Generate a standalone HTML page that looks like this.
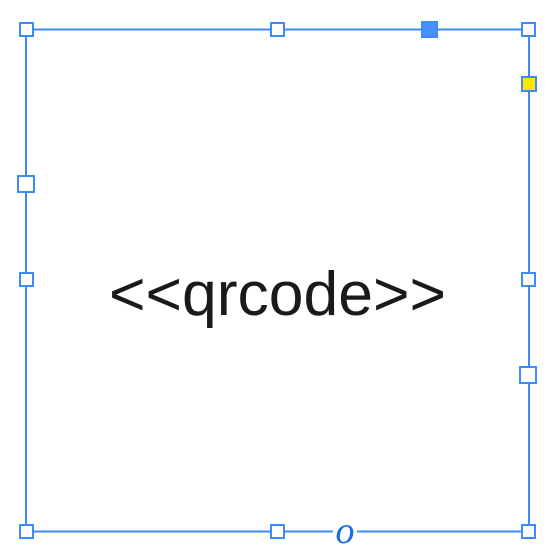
<!DOCTYPE html>
<html><head><style>html,body{margin:0;padding:0;background:#fff;width:560px;height:558px;overflow:hidden}</style></head>
<body>
<svg width="560" height="558" viewBox="0 0 560 558" xmlns="http://www.w3.org/2000/svg">
<rect x="26" y="29.5" width="503" height="502" fill="none" stroke="#3d8bff" stroke-width="2"/>
<text x="109" y="315" font-family="Liberation Sans, sans-serif" font-size="62" fill="#1a1a1a" textLength="337" lengthAdjust="spacingAndGlyphs">&lt;&lt;qrcode&gt;&gt;</text>
<g fill="#fff" stroke="#3d8bff" stroke-width="2">
<rect x="20" y="23" width="13" height="13"/>
<rect x="271" y="23" width="13" height="13"/>
<rect x="522" y="23" width="13" height="13"/>
<rect x="18" y="176" width="16" height="16"/>
<rect x="20" y="273" width="13" height="13"/>
<rect x="522" y="273" width="13" height="13"/>
<rect x="520" y="367" width="16" height="16"/>
<rect x="20" y="525" width="13" height="13"/>
<rect x="271" y="525" width="13" height="13"/>
<rect x="522" y="525" width="13" height="13"/>
<rect x="422" y="22" width="15" height="15" fill="#4a90ff"/>
<rect x="522" y="77" width="14" height="14" fill="#ffe600"/>
</g>
<rect x="333" y="515" width="24" height="30" fill="#fff"/>
<text x="345" y="543" text-anchor="middle" font-family="Liberation Serif, serif" font-style="italic" font-size="38" fill="#1a6fe0">o</text>
</svg>
</body></html>
